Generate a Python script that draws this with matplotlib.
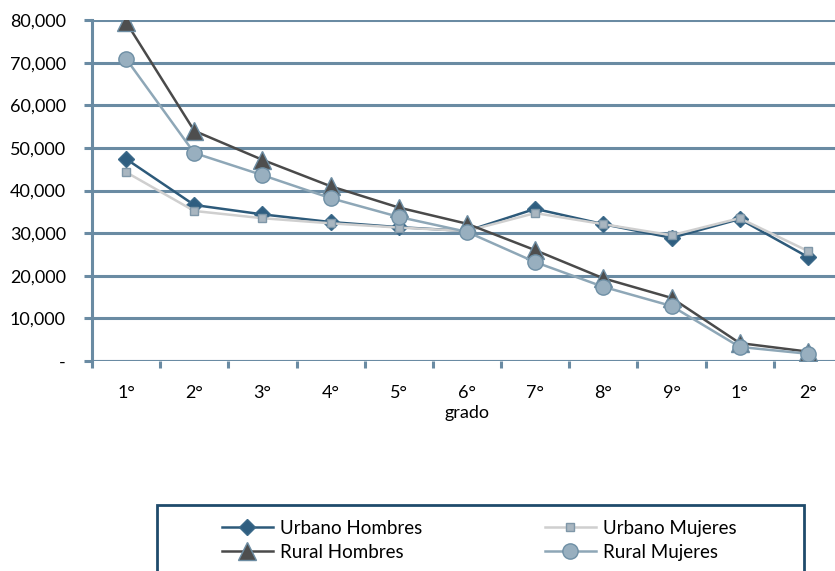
import matplotlib
matplotlib.use("Agg")
import matplotlib.pyplot as plt
from matplotlib.patches import Rectangle
from matplotlib.ticker import FuncFormatter

plt.rcParams['font.family'] = ['Lato', 'DejaVu Sans']

grados = ["1°", "2°", "3°", "4°", "5°", "6°", "7°", "8°", "9°", "1°", "2°"]
urbano_hombres = [47400, 36600, 34400, 32600, 31400, 30500, 35700, 32100, 28900, 33300, 24400]
urbano_mujeres = [44300, 35200, 33500, 32300, 31300, 30500, 34700, 32100, 29500, 33500, 25800]
rural_hombres = [79500, 54000, 47200, 41000, 36000, 32200, 26000, 19400, 14800, 4200, 2200]
rural_mujeres = [70900, 48800, 43600, 38200, 33800, 30300, 23200, 17400, 12900, 3300, 1700]

grid_col = "#6A8BA3"

fig = plt.figure(figsize=(8.35, 5.71), dpi=100)
ax = fig.add_axes([92/835, 1-361/571, 750/835, 341/571])

x = list(range(len(grados)))
l_uh, = ax.plot(x, urbano_hombres, color="#2D5A7A", lw=1.8, marker="D", ms=8,
                mfc="#2F5E80", mec="#3C6A8A", label="Urbano Hombres", zorder=3)
l_um, = ax.plot(x, urbano_mujeres, color="#CFCFCF", lw=1.8, marker="s", ms=6,
                mfc="#A9B6C0", mec="#7F97A8", label="Urbano Mujeres", zorder=3)
l_rh, = ax.plot(x, rural_hombres, color="#4A4A4A", lw=1.8, marker="^", ms=13,
                mfc="#4E4E4E", mec="#6D8DA3", label="Rural Hombres", zorder=4)
l_rm, = ax.plot(x, rural_mujeres, color="#8EA7B7", lw=1.8, marker="o", ms=11,
                mfc="#98AFBF", mec="#6E8FA5", label="Rural Mujeres", zorder=5)

ax.set_xlim(-0.5, len(grados) - 0.5)
ax.set_ylim(0, 80000)
ax.set_yticks(range(0, 80001, 10000))
ax.yaxis.set_major_formatter(FuncFormatter(lambda v, p: "-" if v == 0 else f"{int(v):,}"))
ax.set_xticks(x)
ax.set_xticklabels(grados)
ax.set_xticks([i - 0.5 for i in range(len(grados) + 1)], minor=True)

ax.grid(axis="y", color=grid_col, lw=2.2, zorder=1)
ax.set_axisbelow(True)
for s in ["top", "right", "bottom"]:
    ax.spines[s].set_visible(False)
ax.spines["left"].set_color(grid_col)
ax.spines["left"].set_linewidth(2.2)

ax.tick_params(axis="x", which="major", length=0, pad=17, labelsize=13)
ax.tick_params(axis="x", which="minor", length=5, width=2.2, color=grid_col)
ax.tick_params(axis="y", length=5.8, width=2.2, color=grid_col, pad=13, labelsize=13)
ax.axhline(0, color=grid_col, lw=2.2, zorder=2)
ax.set_xlabel("grado", fontsize=13, labelpad=3)

# legend frame (runs past the lower edge of the figure)
fig.patches.append(Rectangle((157/835, -0.1), 647/835, 0.1 + 1 - 505/571,
                             transform=fig.transFigure, fill=False,
                             edgecolor="#1F4B6B", lw=2))

leg_kw = dict(frameon=False, loc="upper left", borderpad=0, borderaxespad=0,
              fontsize=13.5, handlelength=2.7, handletextpad=0.37,
              labelspacing=0.36)
fig.legend([l_uh, l_rh], ["Urbano Hombres", "Rural Hombres"],
           bbox_to_anchor=(222/835, 1-520/571), **leg_kw)
fig.legend([l_um, l_rm], ["Urbano Mujeres", "Rural Mujeres"],
           bbox_to_anchor=(545/835, 1-520/571), **leg_kw)

fig.savefig("out.png", dpi=100)
